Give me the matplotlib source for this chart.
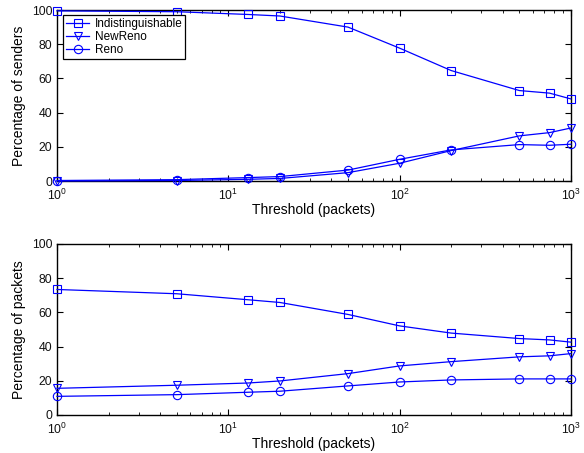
import matplotlib.pyplot as plt
from matplotlib.ticker import LogLocator, NullFormatter

plt.rcParams['font.family'] = ['Liberation Sans', 'DejaVu Sans']
plt.rcParams['font.size'] = 8.8
plt.rcParams['mathtext.fontset'] = 'custom'
plt.rcParams['mathtext.rm'] = 'Liberation Sans'
plt.rcParams['mathtext.it'] = 'Liberation Sans'

# Threshold values (packets)
thresholds = [1, 5, 13, 20, 50, 100, 200, 500, 750, 1000]

# Percentage of senders
senders_indist = [99.5, 99.0, 97.4, 96.5, 90.0, 77.7, 64.6, 52.9, 51.4, 48.0]
senders_newreno = [0.0, 0.3, 1.0, 1.5, 4.9, 10.4, 17.8, 26.4, 28.3, 31.0]
senders_reno = [0.3, 0.8, 2.0, 2.6, 6.4, 12.7, 18.2, 21.3, 20.9, 21.5]

# Percentage of packets
packets_indist = [73.4, 70.9, 67.4, 65.8, 58.8, 52.1, 47.9, 44.7, 43.9, 42.6]
packets_newreno = [15.6, 17.4, 18.7, 19.9, 24.2, 28.7, 31.2, 34.0, 34.6, 35.9]
packets_reno = [10.9, 11.9, 13.3, 13.9, 17.0, 19.3, 20.5, 21.1, 21.1, 21.1]

labels = ['Indistinguishable', 'NewReno', 'Reno']
markers = ['s', 'v', 'o']

fig = plt.figure(figsize=(5.84, 4.53), dpi=100)
ax1 = fig.add_axes([0.0976, 0.6004, 0.880, 0.3775])
ax2 = fig.add_axes([0.0976, 0.0839, 0.880, 0.3775])


def draw(ax, series, ylabel):
    for vals, m, lab in zip(series, markers, labels):
        ax.plot(thresholds, vals, color='#0000ff', lw=0.9, marker=m,
                markersize=6, markerfacecolor='none', markeredgecolor='#0000ff',
                markeredgewidth=0.8, label=lab, clip_on=False, zorder=3)
    ax.set_xscale('log')
    ax.set_xlim(1, 1000)
    ax.set_ylim(0, 100)
    ax.set_yticks([0, 20, 40, 60, 80, 100])
    ax.xaxis.set_major_locator(LogLocator(base=10))
    ax.xaxis.set_minor_locator(LogLocator(base=10, subs=range(2, 10)))
    ax.xaxis.set_minor_formatter(NullFormatter())
    ax.tick_params(which='both', direction='in', top=True, right=True,
                   colors='black', labelcolor='#111111')
    ax.tick_params(which='major', length=4, width=0.8)
    ax.tick_params(which='minor', length=2, width=0.6)
    ax.tick_params(axis='x', pad=5)
    for s in ax.spines.values():
        s.set_linewidth(1.0)
    ax.set_xlabel('Threshold (packets)', fontsize=10, labelpad=0)
    ax.set_ylabel(ylabel, fontsize=10, labelpad=4)


draw(ax1, [senders_indist, senders_newreno, senders_reno], 'Percentage of senders')
draw(ax2, [packets_indist, packets_newreno, packets_reno], 'Percentage of packets')

leg = ax1.legend(loc='upper left', bbox_to_anchor=(0.008, 0.985), fancybox=False,
                 edgecolor='black', framealpha=1, borderpad=0.25, labelspacing=0.1,
                 handlelength=1.9, handletextpad=0.5, borderaxespad=0.2,
                 fontsize=8.5)
leg.get_frame().set_linewidth(0.9)

fig.savefig('out.png', dpi=100)
